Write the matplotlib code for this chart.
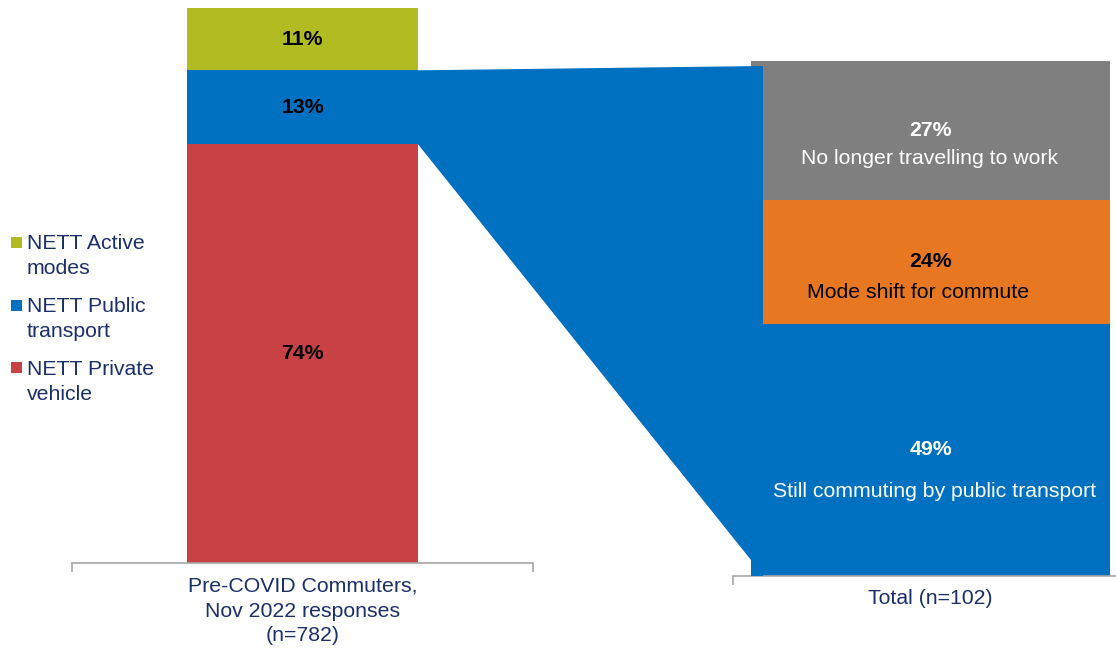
import matplotlib
matplotlib.use("Agg")
import matplotlib.pyplot as plt
from matplotlib.patches import Rectangle, Polygon
import numpy as np

plt.rcParams['font.family'] = ['Liberation Sans', 'DejaVu Sans']

# Pre-COVID commuters by main mode (stacked bottom to top)
modes = ["NETT Private\nvehicle", "NETT Public\ntransport", "NETT Active\nmodes"]
mode_share = [74, 13, 11]
mode_colors = ["#C84245", "#0070C0", "#B1BC22"]

# What the pre-COVID public transport commuters do now (stacked bottom to top)
outcomes = ["Still commuting by public transport", "Mode shift for commute",
            "No longer travelling to work"]
outcome_share = [49, 24, 27]
outcome_colors = ["#0070C0", "#E87722", "#7F7F7F"]
outcome_text = ["white", "black", "white"]

left_category = "Pre-COVID Commuters,\nNov 2022 responses\n(n=782)"
right_category = "Total (n=102)"
focus = 1  # public transport segment that is broken down on the right

NAVY = "#1B2F6B"
AXIS_GREY = "#A6A6A6"
FS = 15.3
LS = 1.38

W, H = 1116, 648
fig = plt.figure(figsize=(W / 100, H / 100), dpi=100)

ax1 = fig.add_axes([72 / W, 85 / H, 461 / W, 566.3 / H])
ax2 = fig.add_axes([733 / W, 72 / H, 395 / W, 515 / H])

w1, w2 = 0.5, 0.909


def style(ax):
    ax.set_xlim(-0.5, 0.5)
    ax.set_ylim(0, 100)
    for s in ("top", "left", "right"):
        ax.spines[s].set_visible(False)
    ax.spines["bottom"].set_color(AXIS_GREY)
    ax.spines["bottom"].set_linewidth(1.2)
    ax.set_yticks([])
    ax.set_xticks([-0.5, 0.5])
    ax.set_xticklabels([])
    ax.tick_params(axis="x", length=6.5, width=1.2, color=AXIS_GREY, direction="out")
    ax.patch.set_alpha(0)


style(ax1)
style(ax2)

# Left stacked bar
bottom = 0
for v, c in zip(mode_share, mode_colors):
    ax1.bar(0, v, bottom=bottom, width=w1, color=c, linewidth=0)
    ax1.text(0, bottom + v / 2, f"{v}%", ha="center", va="center",
             fontsize=FS, fontweight="bold", color="black")
    bottom += v

# Right stacked bar
desc_dy = [-30, -22, -20]   # points below the percentage
desc_dx = [3, -9, -1]
bottom = 0
for i, (v, c, name, tc) in enumerate(zip(outcome_share, outcome_colors, outcomes, outcome_text)):
    ax2.bar(0, v, bottom=bottom, width=w2, color=c, linewidth=0)
    mid = bottom + v / 2
    ax2.text(0, mid, f"{v}%", ha="center", va="center",
             fontsize=FS, fontweight="bold", color=tc)
    ax2.annotate(name, xy=(0, mid), xytext=(desc_dx[i], desc_dy[i]),
                 textcoords="offset points", ha="center", va="center",
                 fontsize=FS, color=tc)
    bottom += v

# Category labels
ax1.annotate(left_category, xy=(0, 0), xycoords=("data", "axes fraction"),
             xytext=(0, -10), textcoords="offset points", ha="center", va="top",
             fontsize=FS, color=NAVY, linespacing=LS)
ax2.annotate(right_category, xy=(0, 0), xycoords=("data", "axes fraction"),
             xytext=(0, -9), textcoords="offset points", ha="center", va="top",
             fontsize=FS, color=NAVY)

# Connector from the public transport segment to the breakdown bar
lo = sum(mode_share[:focus])
hi = lo + mode_share[focus]
p_lt = ax1.transData.transform((w1 / 2, hi))
p_lb = ax1.transData.transform((w1 / 2, lo))
p_rt = ax2.transData.transform((-w2 / 2, 100)) + np.array([12, -5])
p_rb = ax2.transData.transform((-w2 / 2, 0))
verts = np.array([p_lt, p_rt, [p_rt[0], p_rb[1]], p_rb, p_rb + np.array([0, 16]), p_lb])
verts = fig.transFigure.inverted().transform(verts)
fig.add_artist(Polygon(verts, closed=True, transform=fig.transFigure,
                       facecolor=mode_colors[focus], edgecolor="none", zorder=1))

# Legend (top entry = top of the stack); rows given by the pixel centre of each first line
row_y = [368, 305, 242]
for name, c, y in zip(modes, mode_colors, row_y):
    fig.add_artist(Rectangle((11 / W, 1 - (y + 5.5) / H), 11 / W, 11 / H,
                             transform=fig.transFigure, facecolor=c, edgecolor="none"))
    fig.text(27 / W, 1 - (y - 8) / H, name, ha="left", va="top",
             fontsize=FS, color=NAVY, linespacing=LS)

fig.savefig("out.png", dpi=100)
